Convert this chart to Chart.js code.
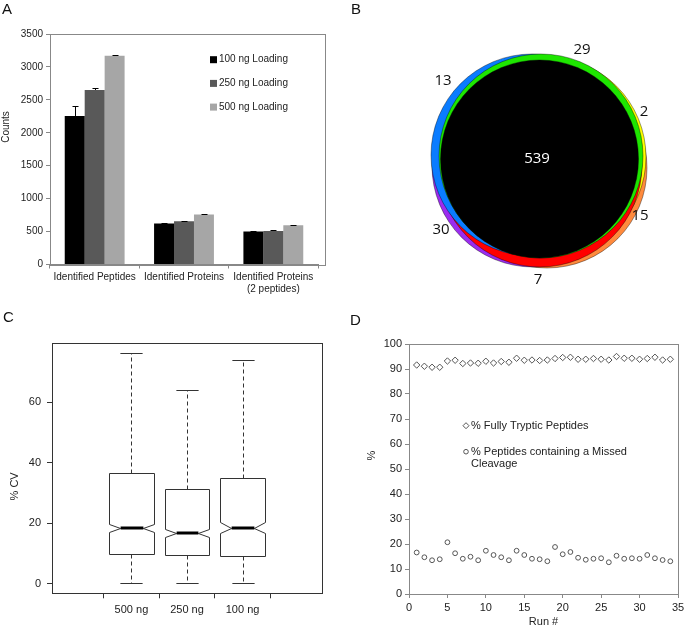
<!DOCTYPE html>
<html>
<head>
<meta charset="utf-8">
<script src="https://cdn.jsdelivr.net/npm/chart.js@4.4.1/dist/chart.umd.min.js"></script>
<style>
  body { margin: 0; background: #fff; }
  #fig { position: relative; width: 688px; height: 629px; overflow: hidden; font-family: "Liberation Sans", Arial, sans-serif; }
  canvas { position: absolute; }
  .tag { position: absolute; font-size: 15px; line-height: 1; color: #111; }
</style>
</head>
<body>
<div id="fig">
  <canvas id="chartA" width="340" height="300" style="left:0;top:0"></canvas>
  <canvas id="chartB" width="296" height="296" style="left:392px;top:11px"></canvas>
  <canvas id="chartC" width="340" height="329" style="left:0;top:300px"></canvas>
  <canvas id="chartD" width="348" height="329" style="left:340px;top:300px"></canvas>
  <div class="tag" style="left:2px;top:1px">A</div>
  <div class="tag" style="left:351px;top:1px">B</div>
  <div class="tag" style="left:3px;top:309px">C</div>
  <div class="tag" style="left:350px;top:312px">D</div>
</div>
<script>
// ---- panel A: identifications per loading amount
const barCategories = ["Identified Peptides", "Identified Proteins", ["Identified Proteins", "(2 peptides)"]];
const loadings = ["100 ng Loading", "250 ng Loading", "500 ng Loading"];
const loadColors = ["#000000", "#595959", "#a6a6a6"];
const counts100 = [2255, 622, 500];
const counts250 = [2650, 655, 510];
const counts500 = [3170, 760, 595];
const err100 = [150, 15, 8];
const err250 = [35, 12, 8];
const err500 = [5, 3, 6];

// ---- panel B: overlap of identified proteins
const vennColors = ["#ff8a3d", "#ffff00", "#9b2cf0", "#ff0000", "#0a7cff", "#1ee600", "#000000"];
const vennX = [7, 6, -7, 0, -8, 1, -0.5];
const vennY = [-9, 2, -7, -6, 4, 3, 0];
const vennR = [100, 100, 101, 102, 101, 102, 99];
const vennCounts = [13, 29, 2, 15, 7, 30, 539];
const vennLabelX = [-97, 42, 104, 100, -2, -99, -3];
const vennLabelY = [78, 109, 47, -57, -121, -71, 0];

// ---- panel C: %CV distributions
const boxGroups = ["500 ng", "250 ng", "100 ng"];
const boxLow = [0.3, 0.2, 0.2];
const boxQ1 = [9.8, 9.5, 9.3];
const boxMedian = [18.4, 16.9, 18.6];
const boxQ3 = [36.5, 31.5, 35.0];
const boxHigh = [76.3, 64.1, 74.1];
const notchLow = [17.1, 15.6, 16.9];
const notchHigh = [19.7, 18.2, 20.3];
const cvTicks = [0, 20, 40, 60];

// ---- panel D: digestion efficiency per run
const runs = [1, 2, 3, 4, 5, 6, 7, 8, 9, 10, 11, 12, 13, 14, 15, 16, 17, 18, 19, 20, 21, 22, 23, 24, 25, 26, 27, 28, 29, 30, 31, 32, 33, 34];
const fullyTryptic = [91.6, 91.1, 90.7, 90.7, 93.2, 93.5, 92.2, 92.4, 92.3, 93.1, 92.4, 93.0, 92.7, 94.3, 93.5, 93.6, 93.4, 93.6, 94.2, 94.6, 94.7, 93.9, 93.9, 94.2, 93.9, 93.6, 95.0, 94.3, 94.3, 93.9, 94.2, 94.7, 93.6, 93.9];
const missedCleavage = [16.6, 14.7, 13.5, 13.9, 20.7, 16.3, 14.1, 14.9, 13.5, 17.3, 15.6, 14.7, 13.5, 17.3, 15.6, 14.1, 13.9, 13.1, 18.8, 15.9, 16.8, 14.5, 13.7, 14.1, 14.3, 12.7, 15.3, 14.1, 14.3, 14.1, 15.6, 14.3, 13.6, 13.1];

Chart.defaults.font.family = '"Liberation Sans", Arial, sans-serif';
Chart.defaults.color = "#222";
Chart.defaults.animation = false;
Chart.defaults.events = [];
Chart.defaults.plugins.legend.display = false;
Chart.defaults.plugins.tooltip.enabled = false;

// box around the plot area
const framePlugin = {
  id: "frame",
  afterDraw(chart, args, opts) {
    const a = chart.chartArea, ctx = chart.ctx;
    ctx.save();
    ctx.strokeStyle = opts.color || "#888";
    ctx.lineWidth = 1;
    const l = Math.round(a.left) + 0.5, t = Math.round(a.top) + 0.5;
    const r = Math.round(a.right + (opts.extra || 0)) + 0.5, b = Math.round(a.bottom) + 0.5;
    ctx.strokeRect(l, t, r - l, b - t);
    ctx.restore();
  }
};

// rotated y axis title, placed by hand
const sideTitlePlugin = {
  id: "sideTitle",
  afterDraw(chart, args, opts) {
    const ctx = chart.ctx, a = chart.chartArea;
    ctx.save();
    ctx.translate(opts.x, a.top + opts.dy);
    ctx.rotate(-Math.PI / 2);
    ctx.font = opts.size + 'px "Liberation Sans", Arial, sans-serif';
    ctx.fillStyle = "#222";
    ctx.textAlign = "center";
    ctx.textBaseline = "middle";
    ctx.fillText(opts.text, 0, 0);
    ctx.restore();
  }
};

const errorBarPlugin = {
  id: "errorBars",
  afterDatasetsDraw(chart) {
    const ctx = chart.ctx, y = chart.scales.y;
    ctx.save();
    ctx.strokeStyle = "#000";
    ctx.lineWidth = 1;
    chart.data.datasets.forEach((ds, di) => {
      chart.getDatasetMeta(di).data.forEach((bar, i) => {
        const top = Math.round(y.getPixelForValue(ds.data[i] + ds.errors[i])) + 0.5;
        const x = Math.round(bar.x) + 0.5;
        ctx.beginPath();
        ctx.moveTo(x, bar.y);
        ctx.lineTo(x, top);
        ctx.moveTo(x - 3, top);
        ctx.lineTo(x + 3, top);
        ctx.stroke();
      });
    });
    ctx.restore();
  }
};

const barLegendPlugin = {
  id: "barLegend",
  afterDraw(chart, args, opts) {
    const ctx = chart.ctx, a = chart.chartArea;
    ctx.save();
    ctx.font = '10px "Liberation Sans", Arial, sans-serif';
    ctx.textBaseline = "middle";
    chart.data.datasets.forEach((ds, i) => {
      const x = a.left + opts.left, y = a.top + opts.top + i * opts.gap;
      ctx.fillStyle = ds.backgroundColor;
      ctx.fillRect(x, y - 3.5, 7, 7);
      ctx.fillStyle = "#222";
      ctx.fillText(ds.label, x + 9, y);
    });
    ctx.restore();
  }
};

new Chart(document.getElementById("chartA"), {
  type: "bar",
  data: {
    labels: barCategories,
    datasets: [
      { label: loadings[0], data: counts100, errors: err100, backgroundColor: loadColors[0] },
      { label: loadings[1], data: counts250, errors: err250, backgroundColor: loadColors[1] },
      { label: loadings[2], data: counts500, errors: err500, backgroundColor: loadColors[2] }
    ]
  },
  options: {
    responsive: false,
    layout: { padding: { top: 34, right: 22, left: 0, bottom: 0 } },
    datasets: { bar: { categoryPercentage: 0.67, barPercentage: 1 } },
    scales: {
      x: {
        afterFit: (s) => { s.height = 35.5; },
        border: { color: "#888" },
        grid: { drawOnChartArea: false, tickLength: 4, color: "#888", offset: true },
        ticks: { font: { size: 10 }, padding: 3, maxRotation: 0, autoSkip: false }
      },
      y: {
        min: 0, max: 3500,
        afterFit: (s) => { s.width = 50; },
        border: { color: "#888" },
        grid: { drawOnChartArea: false, tickLength: 4, color: "#888" },
        ticks: { stepSize: 500, font: { size: 10 }, padding: 3, callback: (v) => String(v) }
      }
    },
    plugins: {
      frame: { color: "#888", extra: 7 },
      barLegend: { left: 160, top: 25.7, gap: 23.7 },
      sideTitle: { text: "Counts", x: 6, dy: 93, size: 10 }
    }
  },
  plugins: [framePlugin, errorBarPlugin, barLegendPlugin, sideTitlePlugin]
});

// ---- B: overlapping circles drawn as bubbles, counts as text
const vennLabelPlugin = {
  id: "vennLabels",
  afterDatasetsDraw(chart) {
    const ctx = chart.ctx;
    const meta = chart.getDatasetMeta(1);
    ctx.save();
    ctx.font = '15px "Open Sans", "DejaVu Sans", sans-serif';
    ctx.textAlign = "center";
    ctx.textBaseline = "middle";
    meta.data.forEach((pt, i) => {
      ctx.fillStyle = i === vennCounts.length - 1 ? "#fff" : "#111";
      ctx.fillText(String(vennCounts[i]), pt.x, pt.y);
    });
    ctx.restore();
  }
};

new Chart(document.getElementById("chartB"), {
  type: "bubble",
  data: {
    datasets: [
      {
        data: vennX.map((x, i) => ({ x: x, y: vennY[i], r: vennR[i] })),
        backgroundColor: vennColors,
        borderColor: "rgba(0,0,0,0.55)",
        borderWidth: 0.7
      },
      {
        data: vennLabelX.map((x, i) => ({ x: x, y: vennLabelY[i], r: 0 })),
        backgroundColor: "rgba(0,0,0,0)",
        borderWidth: 0
      }
    ]
  },
  options: {
    responsive: false,
    layout: { padding: 0, autoPadding: false },
    clip: false,
    scales: {
      x: { display: false, min: -148, max: 148 },
      y: { display: false, min: -148, max: 148 }
    }
  },
  plugins: [vennLabelPlugin]
});

// ---- C: notched box plots, placed by floating bars on a linear x scale
const notchedBoxPlugin = {
  id: "notchedBox",
  afterDatasetsDraw(chart, args, opts) {
    const ctx = chart.ctx, y = chart.scales.y, xs = chart.scales.x;
    const py = (v) => Math.round(y.getPixelForValue(v)) + 0.5;
    ctx.save();
    ctx.strokeStyle = "#333";
    ctx.lineWidth = 1;
    chart.getDatasetMeta(0).data.forEach((bar, i) => {
      const pos = chart.data.datasets[0].data[i].x;
      const half = xs.getPixelForValue(pos + opts.boxWidth / 2) - xs.getPixelForValue(pos);
      const cx = Math.round(bar.x) + 0.5;
      const l = Math.round(bar.x - half) + 0.5, r = Math.round(bar.x + half) + 0.5;
      const inset = half / 2;
      // whiskers
      ctx.setLineDash([4, 3]);
      ctx.beginPath();
      ctx.moveTo(cx, py(boxQ3[i])); ctx.lineTo(cx, py(boxHigh[i]));
      ctx.moveTo(cx, py(boxQ1[i])); ctx.lineTo(cx, py(boxLow[i]));
      ctx.stroke();
      ctx.setLineDash([]);
      ctx.beginPath();
      ctx.moveTo(cx - half / 2, py(boxHigh[i])); ctx.lineTo(cx + half / 2, py(boxHigh[i]));
      ctx.moveTo(cx - half / 2, py(boxLow[i])); ctx.lineTo(cx + half / 2, py(boxLow[i]));
      ctx.stroke();
      // notched box
      ctx.beginPath();
      ctx.moveTo(l, py(boxQ1[i]));
      ctx.lineTo(l, py(notchLow[i]));
      ctx.lineTo(l + inset, py(boxMedian[i]));
      ctx.lineTo(l, py(notchHigh[i]));
      ctx.lineTo(l, py(boxQ3[i]));
      ctx.lineTo(r, py(boxQ3[i]));
      ctx.lineTo(r, py(notchHigh[i]));
      ctx.lineTo(r - inset, py(boxMedian[i]));
      ctx.lineTo(r, py(notchLow[i]));
      ctx.lineTo(r, py(boxQ1[i]));
      ctx.closePath();
      ctx.fillStyle = "#fff";
      ctx.fill();
      ctx.stroke();
      // median
      ctx.beginPath();
      ctx.lineWidth = 3;
      ctx.strokeStyle = "#000";
      ctx.moveTo(l + inset, py(boxMedian[i]) - 0.5);
      ctx.lineTo(r - inset, py(boxMedian[i]) - 0.5);
      ctx.stroke();
      ctx.lineWidth = 1;
      ctx.strokeStyle = "#333";
    });
    ctx.restore();
  }
};

new Chart(document.getElementById("chartC"), {
  type: "bar",
  data: {
    datasets: [{
      data: boxGroups.map((g, i) => ({ x: i + 1, y: [boxQ1[i], boxQ3[i]] })),
      backgroundColor: "rgba(0,0,0,0)",
      borderWidth: 0
    }]
  },
  options: {
    responsive: false,
    layout: { padding: { top: 43, right: 18, left: 0, bottom: 0 } },
    scales: {
      x: {
        type: "linear", min: 0.38, max: 3.62,
        afterFit: (s) => { s.height = 35.7; },
        afterBuildTicks: (s) => { s.ticks = boxGroups.map((g, i) => ({ value: i + 1 })); },
        border: { display: false },
        grid: { drawOnChartArea: false, tickLength: 5, color: "#333" },
        ticks: { font: { size: 11 }, padding: 5, callback: (v) => boxGroups[v - 1] }
      },
      y: {
        min: -3.1, max: 79.55,
        afterFit: (s) => { s.width = 52; },
        afterBuildTicks: (s) => { s.ticks = cvTicks.map((v) => ({ value: v })); },
        border: { display: false },
        grid: { drawOnChartArea: false, tickLength: 5, color: "#333" },
        ticks: { font: { size: 11 }, padding: 6 }
      }
    },
    plugins: {
      frame: { color: "#333" },
      notchedBox: { boxWidth: 0.8 },
      sideTitle: { text: "% CV", x: 15, dy: 143.4, size: 11 }
    }
  },
  plugins: [framePlugin, notchedBoxPlugin, sideTitlePlugin]
});

// ---- D: scatter of digestion metrics
const scatterLegendPlugin = {
  id: "scatterLegend",
  afterDraw(chart, args, opts) {
    const ctx = chart.ctx, a = chart.chartArea;
    ctx.save();
    ctx.font = '11px "Liberation Sans", Arial, sans-serif';
    ctx.textBaseline = "middle";
    opts.items.forEach((item, i) => {
      const x = a.left + opts.left, y = a.top + opts.top + i * opts.gap;
      ctx.strokeStyle = "#555";
      ctx.lineWidth = 1;
      ctx.beginPath();
      if (item.marker === "diamond") {
        ctx.moveTo(x, y - 3); ctx.lineTo(x + 3, y); ctx.lineTo(x, y + 3); ctx.lineTo(x - 3, y); ctx.closePath();
      } else {
        ctx.arc(x, y, 2.3, 0, Math.PI * 2);
      }
      ctx.stroke();
      ctx.fillStyle = "#222";
      item.lines.forEach((t, k) => ctx.fillText(t, x + 5, y + k * 12.5));
    });
    ctx.restore();
  }
};

new Chart(document.getElementById("chartD"), {
  type: "scatter",
  data: {
    datasets: [
      {
        label: "% Fully Tryptic Peptides",
        data: runs.map((r, i) => ({ x: r, y: fullyTryptic[i] })),
        pointStyle: "rectRot", pointRadius: 3.2,
        borderColor: "#555", backgroundColor: "#fff", borderWidth: 1
      },
      {
        label: "% Peptides containing a Missed Cleavage",
        data: runs.map((r, i) => ({ x: r, y: missedCleavage[i] })),
        pointStyle: "circle", pointRadius: 2.4,
        borderColor: "#555", backgroundColor: "#fff", borderWidth: 1
      }
    ]
  },
  options: {
    responsive: false,
    layout: { padding: { top: 44, right: 10, left: 0, bottom: 0 } },
    scales: {
      x: {
        min: 0, max: 35,
        afterFit: (s) => { s.height = 35; },
        border: { color: "#888" },
        grid: { drawOnChartArea: false, tickLength: 4, color: "#888" },
        ticks: { stepSize: 5, font: { size: 11 }, padding: 3 },
        title: { display: true, text: "Run #", font: { size: 11 }, padding: { top: 0, bottom: 0 } }
      },
      y: {
        min: 0, max: 100,
        afterFit: (s) => { s.width = 69; },
        border: { color: "#888" },
        grid: { drawOnChartArea: false, tickLength: 4, color: "#888" },
        ticks: { stepSize: 10, font: { size: 11 }, padding: 3 }
      }
    },
    plugins: {
      frame: { color: "#888" },
      sideTitle: { text: "%", x: 32, dy: 111.7, size: 11 },
      scatterLegend: {
        left: 57, top: 81.7, gap: 26,
        items: [
          { marker: "diamond", lines: ["% Fully Tryptic Peptides"] },
          { marker: "circle", lines: ["% Peptides containing a Missed", "Cleavage"] }
        ]
      }
    }
  },
  plugins: [framePlugin, sideTitlePlugin, scatterLegendPlugin]
});
</script>
</body>
</html>
